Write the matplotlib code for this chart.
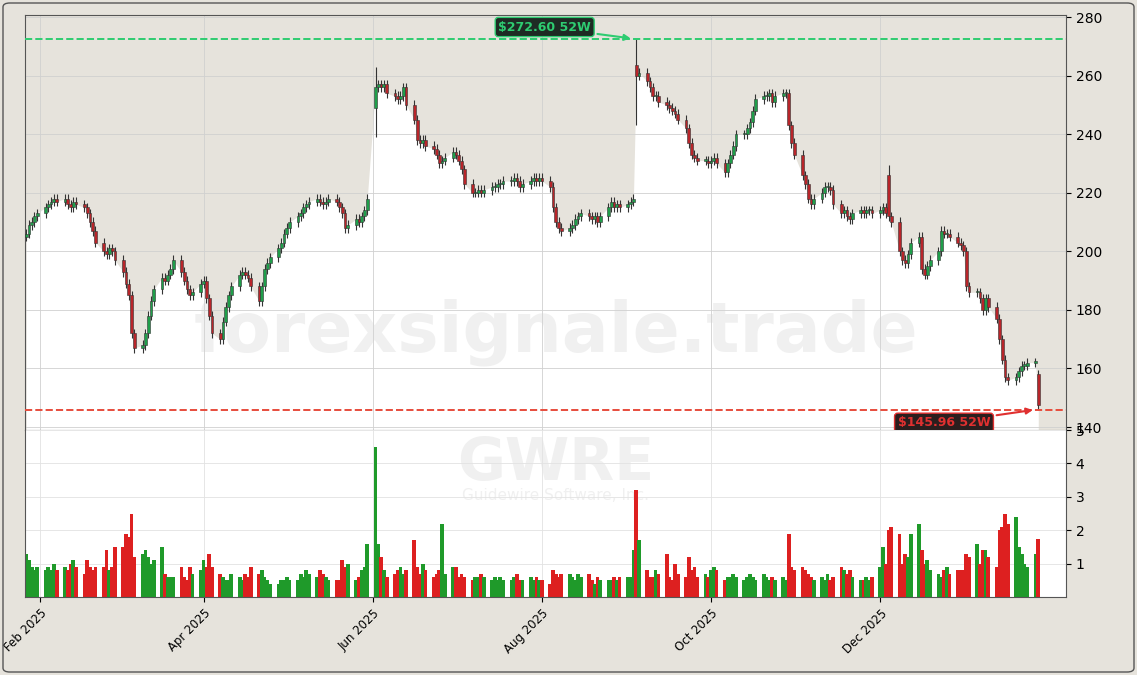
import matplotlib
matplotlib.use("Agg")
import matplotlib.pyplot as plt
import matplotlib.dates as mdates
import numpy as np
import pandas as pd
from matplotlib.patches import Rectangle, FancyBboxPatch

closes = [
 206, 209, 210, 212, 213,
 215, 216, 217, 218, 217, 218, 216, 215, 217, 216, 215, 213, 210, 207, 203, 200, 199, 201, 200, 197,
 193, 189, 185, 172, 167, 168, 172, 178, 183, 187, 191, 190, 192, 194, 197, 193, 190, 187, 185, 186, 189,
 190, 184, 178, 172, 170, 176, 181, 185, 188, 192, 193, 192, 191, 188, 183, 188, 194, 196, 198, 201, 203, 206,
 208, 210, 212, 213, 215, 216, 217, 218, 217, 216, 217, 218, 217, 215, 213, 208, 209, 211, 210, 212, 214, 218,
 256, 257, 256, 257, 254, 253, 252, 253, 256, 250, 245, 238, 237, 238, 236, 235, 233, 230, 231, 232, 234,
 233, 231, 228, 223, 220, 220, 221, 220, 221, 222, 222, 223, 223, 224, 224, 225, 224, 222, 223, 224, 225, 224, 225,
 224, 222, 215, 210, 208, 207, 208, 209, 211, 212, 213, 212, 211, 212, 210, 212, 215, 217, 215, 216, 215,
 216, 217, 218, 260, 261, 258, 256, 253, 253, 251, 250, 249, 248, 247, 245, 242, 237, 233, 232, 231, 231, 230,
 231, 232, 230, 227, 230, 233, 236, 240, 240, 242, 244, 248, 252, 253, 253, 254, 251, 253, 254, 254, 243, 237, 233,
 226, 223, 218, 216, 218, 220, 222, 222, 221, 216, 213, 214, 212, 211, 213, 214, 213, 214, 214, 213,
 214, 215, 213, 212, 210, 200, 197, 196, 199, 203, 205, 194, 192, 195, 197, 200, 207, 206, 206, 205, 203, 202, 200,
 188, 186, 186, 184, 180, 184, 181, 177, 170, 163, 157, 156, 157, 159, 161, 161, 162, 162, 147.5,
]
volumes = [
 1.3, 1.1, 0.9, 0.8, 0.9,
 0.8, 0.9, 0.8, 1.0, 0.8, 0.9, 0.8, 1.0, 1.1, 0.9, 0.7, 1.1, 0.9, 0.8, 0.9, 0.9, 1.4, 0.8, 0.9, 1.5,
 1.5, 1.9, 1.8, 2.5, 1.2, 1.3, 1.4, 1.2, 1.0, 1.1, 1.5, 0.7, 0.6, 0.6, 0.6, 0.9, 0.6, 0.5, 0.9, 0.7, 0.8,
 1.1, 0.9, 1.3, 0.9, 0.7, 0.6, 0.5, 0.5, 0.7, 0.6, 0.5, 0.7, 0.6, 0.9, 0.7, 0.8, 0.6, 0.5, 0.4, 0.4, 0.5, 0.5,
 0.6, 0.5, 0.5, 0.7, 0.6, 0.8, 0.7, 0.6, 0.8, 0.7, 0.6, 0.5, 0.5, 0.5, 1.1, 0.9, 1.0, 0.5, 0.6, 0.8, 0.9, 1.6,
 4.5, 1.6, 1.2, 0.8, 0.6, 0.7, 0.8, 0.9, 0.7, 0.8, 1.7, 0.9, 0.7, 1.0, 0.8, 0.6, 0.7, 0.8, 2.2, 0.7, 0.9,
 0.9, 0.6, 0.7, 0.6, 0.5, 0.6, 0.6, 0.7, 0.6, 0.5, 0.6, 0.5, 0.6, 0.5, 0.5, 0.6, 0.7, 0.5, 0.5, 0.6, 0.5, 0.6, 0.5,
 0.5, 0.4, 0.8, 0.7, 0.6, 0.7, 0.7, 0.6, 0.5, 0.7, 0.6, 0.7, 0.5, 0.4, 0.6, 0.5, 0.5, 0.5, 0.6, 0.5, 0.6,
 0.6, 0.6, 1.4, 3.2, 1.7, 0.8, 0.6, 0.6, 0.8, 0.7, 1.3, 0.6, 0.5, 1.0, 0.7, 0.6, 1.2, 0.8, 0.9, 0.6, 0.7, 0.6,
 0.8, 0.9, 0.8, 0.5, 0.6, 0.6, 0.7, 0.6, 0.5, 0.6, 0.7, 0.6, 0.5, 0.7, 0.6, 0.5, 0.6, 0.5, 0.6, 0.5, 1.9, 0.9, 0.8,
 0.9, 0.8, 0.7, 0.6, 0.5, 0.6, 0.5, 0.7, 0.5, 0.6, 0.9, 0.8, 0.7, 0.8, 0.6, 0.5, 0.5, 0.6, 0.5, 0.6,
 0.9, 1.5, 1.0, 2.0, 2.1, 1.9, 1.0, 1.3, 1.2, 1.9, 2.2, 1.4, 1.0, 1.1, 0.8, 0.7, 0.6, 0.8, 0.9, 0.7, 0.8, 0.8, 0.8,
 1.3, 1.2, 1.6, 1.0, 1.4, 1.4, 1.2, 0.9, 2.0, 2.1, 2.5, 2.2, 2.4, 1.5, 1.3, 1.0, 0.9, 1.3, 1.75,
]
# explicit values on gap / spike days (index: value)
open_overrides = {90: 249.0, 158: 263.5, 223: 226.0, 261: 158.0}
high_overrides = {90: 263.0, 158: 272.60, 223: 229.5}
low_overrides = {90: 239.0, 158: 243.0, 261: 145.96}
high_52w = 272.60
low_52w = 145.96
ticker = "GWRE"
company = "Guidewire Software, Inc."
tick_months = ["2025-02-01", "2025-04-01", "2025-06-01", "2025-08-01", "2025-10-01", "2025-12-01"]

n = len(closes)
dates = pd.bdate_range("2025-01-27", periods=n)
x = mdates.date2num(dates)
closes = np.array(closes, float)
opens = np.r_[closes[0] - 1, closes[:-1]]
for k, v in open_overrides.items():
    opens[k] = v
highs = np.maximum(opens, closes) + 1.6
lows = np.minimum(opens, closes) - 1.6
for k, v in high_overrides.items():
    highs[k] = v
for k, v in low_overrides.items():
    lows[k] = v
up = closes >= opens

BG = "#e6e3dc"
W, H = 1137, 675
fig = plt.figure(figsize=(W/100, H/100), dpi=100, facecolor=BG)
fig.patches.append(FancyBboxPatch((3/W, 3/H), 1-6/W, 1-6/H, boxstyle="round,pad=0,rounding_size=0.006",
                                  transform=fig.transFigure, fill=False, ec="#555555", lw=1))
L, R = 25/W, 1066/W
axp = fig.add_axes([L, 1-430/H, R-L, (430-15)/H], facecolor=BG)
axv = fig.add_axes([L, 1-597/H, R-L, (597-430)/H], facecolor="white", sharex=axp)

xmin = mdates.date2num(pd.Timestamp("2025-01-26 14:00"))
xmax = mdates.date2num(pd.Timestamp("2026-02-06"))
axp.set_xlim(xmin, xmax)
axp.set_ylim(139.0, 280.7)
axp.fill_between(x, closes, 130, color="white", lw=0, zorder=0)
axp.grid(True, color="#d0d0d0", lw=0.6, zorder=0.5)
for i in range(n):
    col = "#1f9e4a" if up[i] else "#b8252a"
    axp.vlines(x[i], lows[i], highs[i], color="#333333", lw=0.8, zorder=2)
    b0 = min(opens[i], closes[i]); bh = max(abs(closes[i]-opens[i]), 0.4)
    axp.add_patch(Rectangle((x[i]-0.5, b0), 1.0, bh, fc=col, ec="#333333", lw=0.4, zorder=3))

axp.axhline(high_52w, color="#2ecc71", ls="--", lw=1.4, zorder=4)
axp.axhline(low_52w, color="#e74c3c", ls="--", lw=1.4, zorder=4)
ih = int(np.argmax(highs)); il = int(np.argmin(lows))
axp.annotate(f"${high_52w:.2f} 52W", xy=(x[ih]-1, high_52w), xytext=(x[ih]-33, high_52w+4),
             color="#2ecc71", fontsize=9, fontweight="bold", ha="center", va="center",
             bbox=dict(boxstyle="round,pad=0.25", fc="#1e2b24", ec="#2ecc71", lw=1),
             arrowprops=dict(arrowstyle="-|>", color="#2ecc71", lw=1.5), zorder=6)
axp.annotate(f"${low_52w:.2f} 52W", xy=(x[il]-1, low_52w), xytext=(x[il]-34, low_52w-4.5),
             color="#e03030", fontsize=9, fontweight="bold", ha="center", va="center",
             bbox=dict(boxstyle="round,pad=0.25", fc="#2b1e1e", ec="#e03030", lw=1),
             arrowprops=dict(arrowstyle="-|>", color="#e03030", lw=1.5), zorder=6)
axp.text(0.51, 0.235, "forexsignale.trade", transform=axp.transAxes, fontsize=50, fontweight="bold",
         color="#e4e4e4", alpha=0.55, ha="center", va="center", zorder=1)
axp.yaxis.tick_right()
axp.set_yticks([140, 160, 180, 200, 220, 240, 260, 280])
axp.tick_params(axis="x", labelbottom=False, length=0)
axp.tick_params(axis="y", labelsize=10)
for s in axp.spines.values():
    s.set_color("#555555")

vcols = np.where(up, "#1f9a2a", "#dd2020")
axv.bar(x, volumes, width=1.35, color=vcols, zorder=2)
axv.set_ylim(0, 5.0)
axv.set_yticks([1, 2, 3, 4, 5])
axv.yaxis.tick_right()
axv.grid(True, color="#e2e2e2", lw=0.6, zorder=0)
axv.text(0.51, 0.80, ticker, transform=axv.transAxes, fontsize=42, fontweight="bold",
         color="#f0f0f0", ha="center", va="center", zorder=1)
axv.text(0.51, 0.61, company, transform=axv.transAxes, fontsize=11, color="#f0f0f0",
         ha="center", va="center", zorder=1)
axv.set_xticks(mdates.date2num(pd.to_datetime(tick_months)))
axv.xaxis.set_major_formatter(mdates.DateFormatter("%b %Y"))
plt.setp(axv.get_xticklabels(), rotation=45, ha="right", rotation_mode="anchor", fontsize=8.5)
axv.tick_params(axis="y", labelsize=10)
for s in axv.spines.values():
    s.set_color("#555555")
axv.spines["top"].set_visible(False)

fig.savefig("out.png", dpi=100, facecolor=BG)
